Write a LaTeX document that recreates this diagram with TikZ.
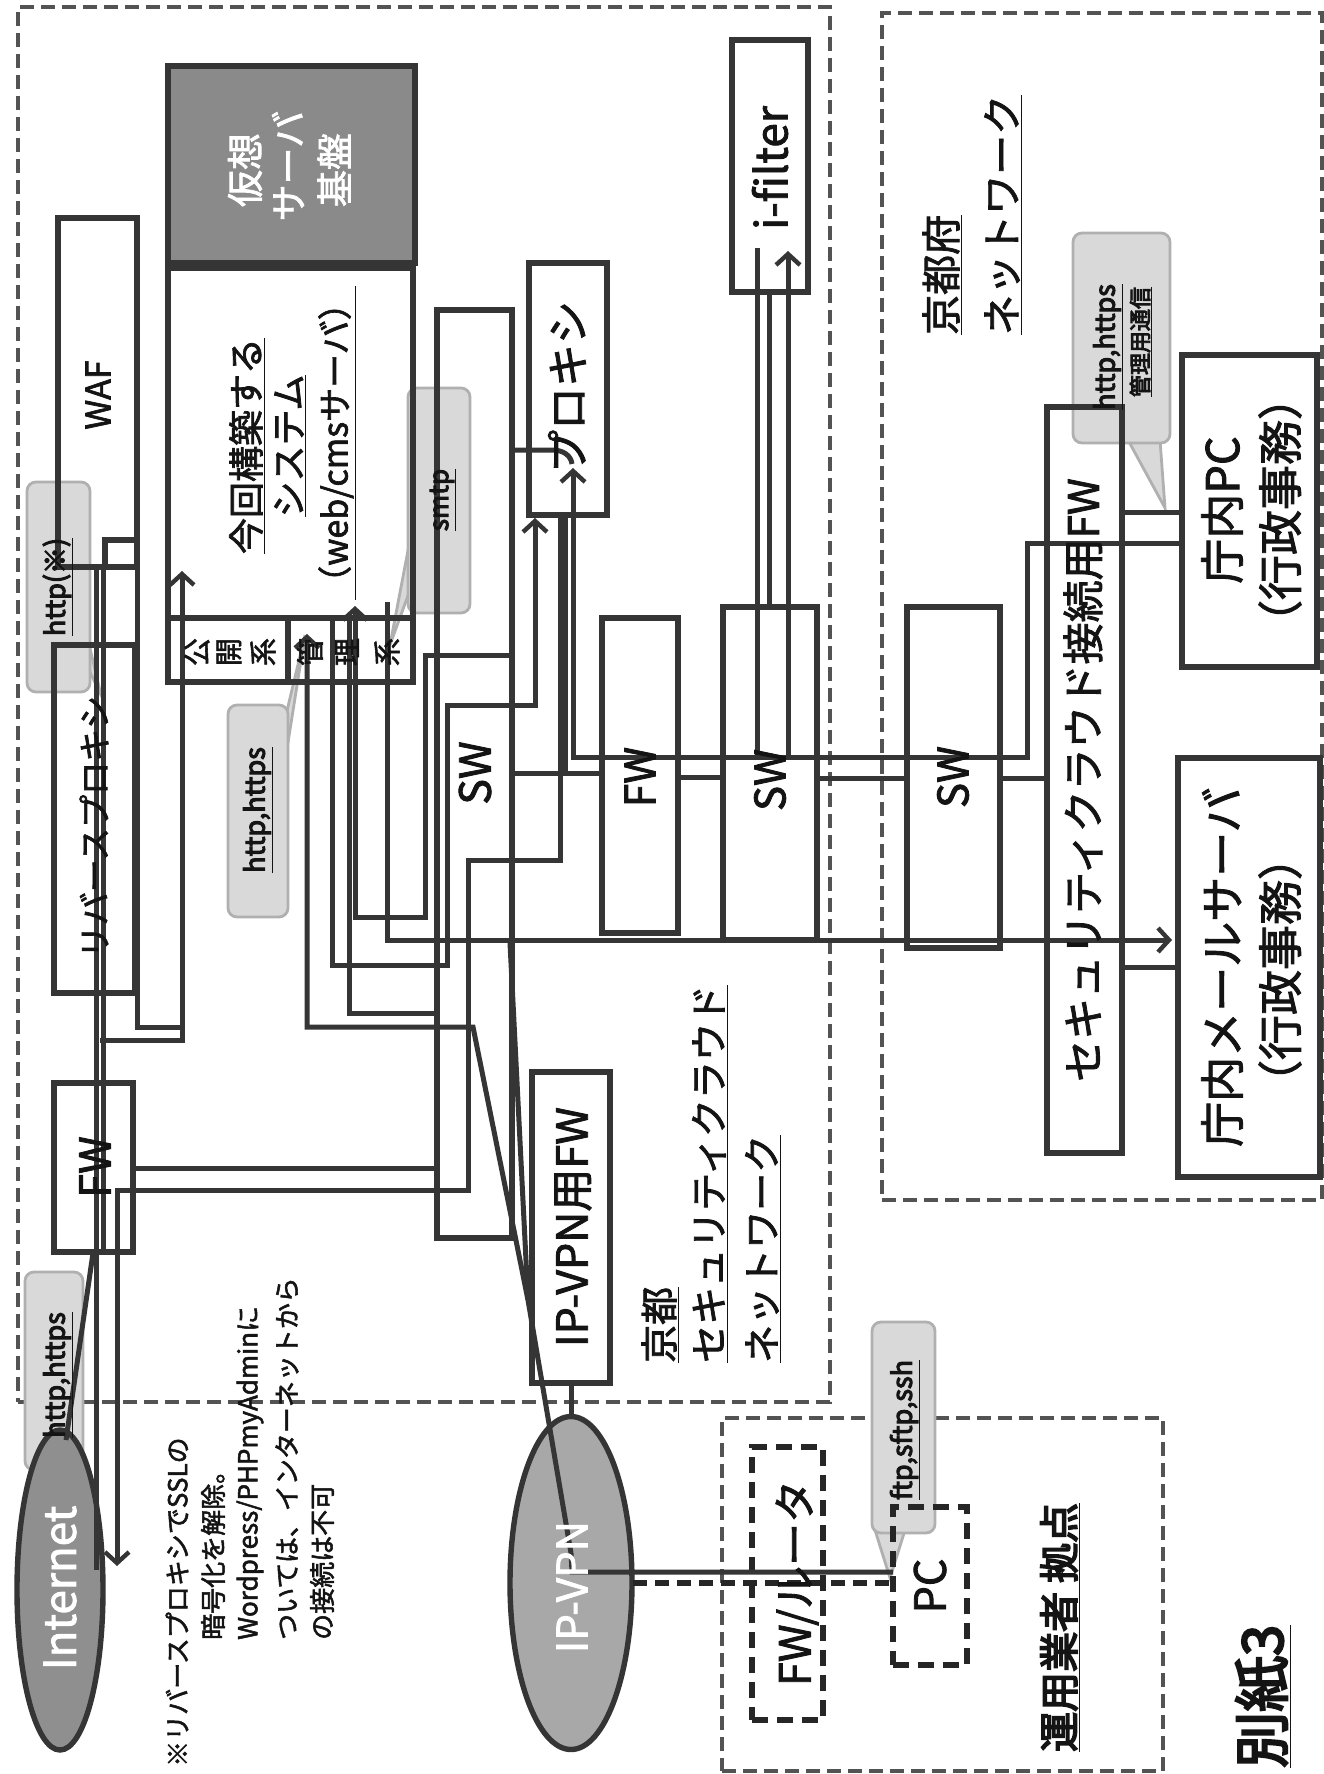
\documentclass[tikz,border=0pt]{standalone}
\usepackage{fontspec}
\setmainfont{Noto Sans CJK JP}[FakeBold=2]
\newfontfamily\jpb{Noto Sans CJK JP}[FakeBold=4]
\usetikzlibrary{arrows.meta,shapes.geometric,fit}
\definecolor{lc}{HTML}{353535}
\definecolor{vg}{HTML}{8A8A8A}
\definecolor{eg}{HTML}{8F8F8F}
\definecolor{egb}{HTML}{A8A8A8}
\definecolor{cg}{HTML}{D9D9D9}
\definecolor{cb}{HTML}{B0B0B0}
\newcommand\fsz[1]{\fontsize{#1}{#1}\selectfont}
\newcommand\notefont{\fsz{26}}
\begin{document}
\begin{tikzpicture}[x=1pt,y=-1pt,
  ln/.style={draw=lc,line width=5pt},
  arr/.style={ln,-{Straight Barb[length=11pt,width=24pt,line width=4.4pt]}},
  bx/.style={draw=lc,line width=5.4pt,inner sep=0pt},
  lbl/.style={rotate=90,inner sep=0pt,text=black!92},
  region/.style={draw=lc!85,line width=3.4pt,dash pattern=on 14pt off 7pt,inner sep=0pt},
  dbox/.style={draw=black!85,line width=6pt,dash pattern=on 16pt off 9pt,inner sep=0pt},
  call/.style={fill=cg,draw=cb,line width=2.8pt,rounded corners=9pt,inner sep=0pt},
  tail/.style={fill=cg,draw=cb,line width=2.8pt},
]
\useasboundingbox (0,0) rectangle (1324,1774);
\fill[white] (0,0) rectangle (1324,1774);

% ---------- regions
\node[region,fit={(18,7)(830,1402)}] (cloud) {};
\node[region,fit={(882,13)(1322,1200)}] (pref) {};
\node[region,fit={(722,1418)(1163,1771)}] (vendor) {};

% ---------- callouts (background)
\draw[tail] (88,640) -- (101,695) -- (88,668) -- cycle;
\node[call,fit={(27,482)(90,692)}] (cHx) {};
\draw[tail] (410,540) -- (390,645) -- (410,590) -- cycle;
\node[call,fit={(408,388)(470,613)}] (cSm) {};
\draw[tail] (286,715) -- (305,635) -- (286,755) -- cycle;
\node[call,fit={(228,705)(288,917)}] (cHm) {};
\node[call,fit={(25,1272)(83,1470)}] (cHi) {};
\draw[tail] (875,1530) -- (890,1578) -- (905,1530) -- cycle;
\node[call,fit={(872,1322)(935,1533)}] (cFt) {};
\draw[tail] (1128,440) -- (1165,508) -- (1160,440) -- cycle;
\node[call,fit={(1073,233)(1170,443)}] (cPf) {};

% ---------- ellipses
\node[ellipse,fill=eg,draw=lc,line width=5.4pt,minimum width=86pt,minimum height=320pt,inner sep=0pt] (inet) at (60,1590) {};
\node[ellipse,fill=egb,draw=lc,line width=5.4pt,minimum width=122pt,minimum height=333pt,inner sep=0pt] (vpn) at (571,1583) {};

% ---------- boxes
\node[bx,fill=vg,fit={(168,66)(415,263)}] (vsrv) {};
\node[bx,fit={(168,268)(413,618)}] (sys) {};
\node[bx,fit={(168,618)(288,682)}] (koukai) {};
\node[bx,fit={(288,618)(413,682)}] (kanri) {};
\node[bx,fit={(58,218)(137,567)}] (waf) {};
\node[bx,fit={(105,540)(137,567)}] (wafp) {};
\node[bx,fit={(54,645)(135,993)}] (rproxy) {};
\node[bx,fit={(54,1083)(133,1252)}] (fw1) {};
\node[bx,fit={(437,310)(512,1238)}] (sw1) {};
\node[bx,fit={(529,263)(607,515)}] (proxy) {};
\node[bx,fit={(602,618)(678,933)}] (fw2) {};
\node[bx,fit={(723,607)(817,940)}] (sw2) {};
\node[bx,fit={(732,40)(808,292)}] (ifil) {};
\node[bx,fit={(907,607)(1000,948)}] (sw3) {};
\node[bx,fit={(1047,407)(1122,1153)}] (cfw) {};
\node[bx,fit={(1182,355)(1317,667)}] (pc) {};
\node[bx,fit={(1178,758)(1320,1177)}] (mail) {};
\node[bx,fit={(532,1072)(610,1383)}] (vpnfw) {};
\node[dbox,fit={(752,1447)(823,1720)}] (router) {};
\node[dbox,fit={(893,1507)(967,1665)}] (opc) {};

% ---------- connectors
\draw[ln] (96,1570) -- (96,567);
\draw[ln] (103,567) -- (103,1252);
\draw[ln] (137,567) -- (137,1027) -- (180,1027);
\draw[arr] (100,1040) -- (182,1040) -- (182,571);
\draw[arr] (560,516) -- (560,860) -- (468,860) -- (468,1190) -- (117,1190) -- (117,1566);
\draw[ln] (133,1168) -- (437,1168);
\draw[arr] (571,1553) -- (528,1300) -- (473,1027) -- (307,1027) -- (307,634);
\draw[ln] (510,943) -- (528,1300);
\draw[ln] (571,1553) -- (572,1572) -- (893,1572);
\draw[draw=black!85,line width=6pt,dash pattern=on 14pt off 8pt] (633,1583) -- (893,1583);
\draw[arr] (332,618) -- (332,965) -- (447,965) -- (447,705) -- (535,705) -- (535,518);
\draw[arr] (512,655) -- (425,655) -- (425,917) -- (355,917) -- (355,606);
\draw[ln] (349,618) -- (349,1013) -- (437,1013);
\draw[arr] (387,602) -- (387,940) -- (1172,940);
\draw[ln] (512,773) -- (602,773);
\draw[ln] (565,515) -- (565,773);
\draw[ln] (512,450) -- (552,450) .. controls (564,450) and (571,456) .. (572,464);
\draw[arr] (1182,543) -- (1027,543) -- (1027,757) -- (573,757) -- (573,468);
\draw[ln] (757,757) -- (757,248);
\draw[ln] (769,607) -- (769,292);
\draw[arr] (788,757) -- (788,251);
\draw[ln] (678,777) -- (723,777);
\draw[ln] (817,778) -- (907,778);
\draw[ln] (1000,778) -- (1047,778);
\draw[ln] (1122,512) -- (1182,512);
\draw[ln] (1122,967) -- (1178,967);
\draw[ln] (571,1383) -- (571,1417);
\draw[ln] (93,1253) -- (66,1440);

% ---------- texts
\node[lbl,font=\fsz{34}] (tWAF) at (98,395) {WAF};
\node[lbl,font=\fsz{37},text=white] (tV1) at (245,170) {仮想};
\node[lbl,font=\fsz{37},text=white] (tV2) at (288,166) {サーバ};
\node[lbl,font=\fsz{37},text=white] (tV3) at (334,170) {基盤};
\node[lbl,font=\fsz{36}] (tS1) at (247,446) {\underline{今回構築する}};
\node[lbl,font=\fsz{36}] (tS2) at (290,446) {\underline{システム}};
\node[lbl,font=\fsz{34}] (tS3) at (337,443) {\underline{（web/cmsサーバ）}};
\node[lbl,font=\fsz{28}] (g1) at (197,652) {公};
\node[lbl,font=\fsz{28}] (g2) at (229,652) {開};
\node[lbl,font=\fsz{28}] (g3) at (263,652) {系};
\node[lbl,font=\fsz{28}] (g4) at (310,652) {管};
\node[lbl,font=\fsz{28}] (g5) at (347,652) {理};
\node[lbl,font=\fsz{28}] (g6) at (387,652) {系};
\node[lbl,font=\fsz{33}] (tRP) at (94,827) {リバースプロキシ};
\node[lbl,font=\fsz{43}] (tFW1) at (95,1167) {FW};
\node[lbl,font=\fsz{44},text=white] (tInet) at (60,1588) {Internet};
\node[lbl,font=\fsz{43}] (tSW1) at (475,773) {SW};
\node[lbl,font=\fsz{43}] (tPX) at (567,387) {プロキシ};
\node[lbl,font=\fsz{42}] (tFW2) at (640,777) {FW};
\node[lbl,font=\fsz{42}] (tSW2) at (770,780) {SW};
\node[lbl,font=\fsz{44}] (tIF) at (770,168) {i-filter};
\node[lbl,font=\fsz{42}] (tSW3) at (953,777) {SW};
\node[lbl,font=\fsz{42}] (tCFW) at (1083,780) {セキュリティクラウド接続用FW};
\node[lbl,font=\fsz{45}] (tPC1) at (1222,510) {庁内PC};
\node[lbl,font=\fsz{45}] (tPC2) at (1280,510) {（行政事務）};
\node[lbl,font=\fsz{45}] (tM1) at (1222,967) {庁内メールサーバ};
\node[lbl,font=\fsz{45}] (tM2) at (1280,970) {（行政事務）};
\node[lbl,font=\fsz{43}] (tVF) at (573,1227) {IP-VPN用FW};
\node[lbl,font=\fsz{42},text=white] (tVPN) at (572,1587) {IP-VPN};
\node[lbl,font=\fsz{43}] (tRT) at (797,1583) {FW/ルータ};
\node[lbl,font=\fsz{43}] (tOPC) at (930,1586) {PC};

% callout texts
\node[lbl,font=\jpb\fsz{27}] (cT1) at (58,587) {\underline{http(※)}};
\node[lbl,font=\jpb\fsz{26}] (cT2) at (443,500) {\underline{smtp}};
\node[lbl,font=\jpb\fsz{27}] (cT3) at (258,810) {\underline{http,https}};
\node[lbl,font=\jpb\fsz{27}] (cT4) at (58,1375) {\underline{http,https}};
\node[lbl,font=\jpb\fsz{27}] (cT5) at (905,1430) {\underline{ftp,sftp,ssh}};
\node[lbl,font=\jpb\fsz{27}] (cT6) at (1108,347) {\underline{http,https}};
\node[lbl,font=\jpb\fsz{22}] (cT7) at (1141,342) {\underline{管理用通信}};

% region titles
\node[lbl,anchor=west,font=\fsz{40}] (r1) at (942,335) {\underline{京都府}};
\node[lbl,anchor=west,font=\fsz{40}] (r2) at (1003,335) {\underline{ネットワーク}};
\node[lbl,anchor=west,font=\fsz{38}] (r3) at (660,1363) {\underline{京都}};
\node[lbl,anchor=west,font=\fsz{38}] (r4) at (710,1363) {\underline{セキュリティクラウド}};
\node[lbl,anchor=west,font=\fsz{38}] (r5) at (763,1363) {\underline{ネットワーク}};
\node[lbl,anchor=west,font=\jpb\fsz{40}] (r6) at (1060,1752) {\underline{運用業者 拠点}};
\node[lbl,anchor=west,font=\jpb\fsz{56}] (r7) at (1263,1768) {\underline{別紙3}};

% note
\node[lbl,anchor=west,font=\notefont] (n1) at (177,1767) {※リバースプロキシでSSLの};
\node[lbl,anchor=west,font=\notefont] (n2) at (213,1640) {暗号化を解除。};
\node[lbl,anchor=west,font=\notefont] (n3) at (250,1640) {Wordpress/PHPmyAdminに};
\node[lbl,anchor=west,font=\notefont] (n4) at (287,1640) {ついては、インターネットから};
\node[lbl,anchor=west,font=\notefont] (n5) at (322,1640) {の接続は不可};
\end{tikzpicture}
\end{document}
